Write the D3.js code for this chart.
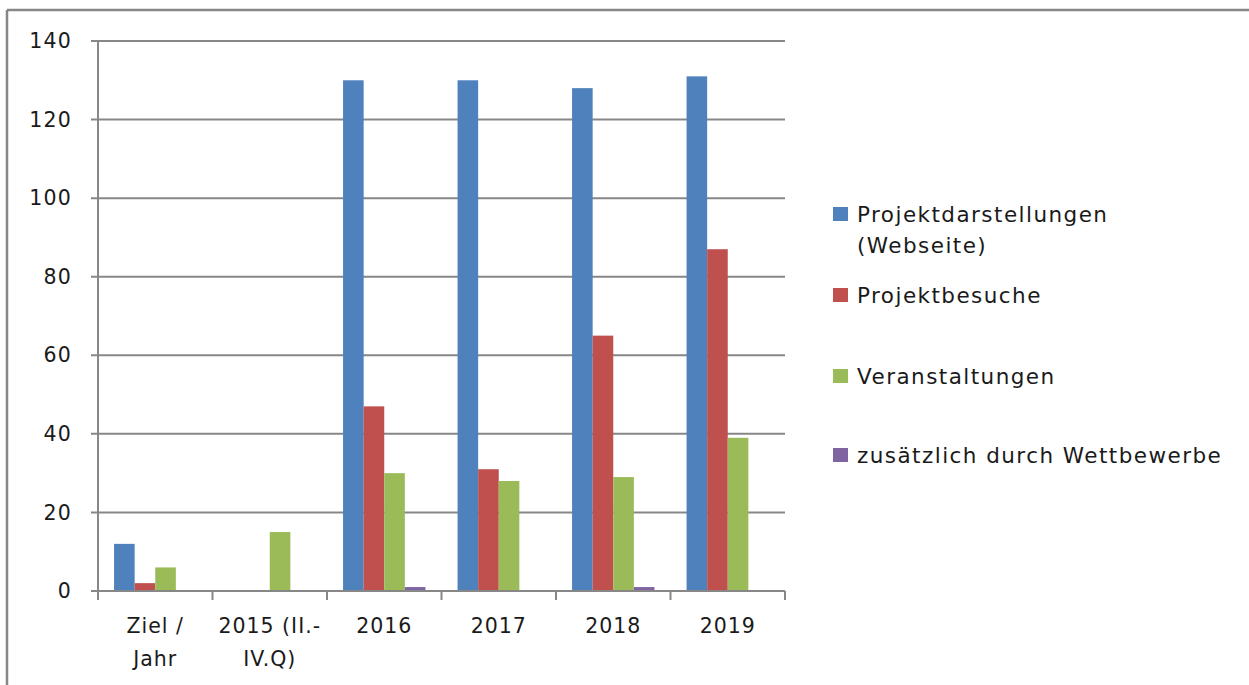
<!DOCTYPE html>
<html><head><meta charset="utf-8">
<script src="https://cdn.jsdelivr.net/npm/d3@7"></script>
<style>html,body{margin:0;padding:0;background:#fff;}svg{display:block;font-family:"DejaVu Sans",sans-serif;}</style>
</head><body>
<svg id="c" width="1249" height="685"></svg>
<script>
const categories = [["Ziel /","Jahr"],["2015 (II.-","IV.Q)"],["2016"],["2017"],["2018"],["2019"]];
const seriesNames = [["Projektdarstellungen","(Webseite)"],["Projektbesuche"],["Veranstaltungen"],["zusätzlich durch Wettbewerbe"]];
const projektdarstellungen = [12, 0, 130, 130, 128, 131];
const projektbesuche = [2, 0, 47, 31, 65, 87];
const veranstaltungen = [6, 15, 30, 28, 29, 39];
const wettbewerbe = [0, 0, 1, 0, 1, 0];
const yTicks = [0, 20, 40, 60, 80, 100, 120, 140];
const colors = ["#4F81BD", "#C0504D", "#9BBB59", "#8064A2"];
const seriesValues = [projektdarstellungen, projektbesuche, veranstaltungen, wettbewerbe];

const svg = d3.select("#c");
const gray = "#878787";
const fs = 20.5;
const txt = "#1a1a1a";
// outer frame
svg.append("line").attr("x1",7).attr("x2",7).attr("y1",10).attr("y2",685).attr("stroke",gray).attr("stroke-width",2.5);
svg.append("line").attr("x1",7).attr("x2",1249).attr("y1",10).attr("y2",10).attr("stroke",gray).attr("stroke-width",2.5);

const pL = 98, pR = 785, pT = 41, pB = 591;
const idx = d3.range(categories.length);
const x = d3.scaleBand().domain(idx).range([pL, pR]).paddingInner(0).paddingOuter(0);
const x1 = d3.scaleBand().domain(d3.range(4)).range([0, x.bandwidth()]).paddingInner(0).paddingOuter(0.78);
const y = d3.scaleLinear().domain([0, 140]).range([pB, pT]);

// gridlines
svg.append("g").selectAll("line").data(yTicks).join("line")
  .attr("x1", pL - 7).attr("x2", pR).attr("y1", d => y(d)).attr("y2", d => y(d))
  .attr("stroke", gray).attr("stroke-width", 2);
// y axis line
svg.append("line").attr("x1", pL).attr("x2", pL).attr("y1", pT).attr("y2", pB).attr("stroke", gray).attr("stroke-width", 2);
// y labels
svg.append("g").selectAll("text").data(yTicks).join("text")
  .attr("x", 72).attr("y", d => y(d)).attr("dy", "0.35em").attr("text-anchor", "end")
  .attr("font-size", fs).attr("letter-spacing", 1.2).attr("fill", txt).text(d => d);

// bars
const groups = svg.append("g").selectAll("g").data(idx).join("g")
  .attr("transform", i => `translate(${x(i)},0)`);
groups.selectAll("rect").data(i => seriesValues.map((s, k) => ({k, v: s[i]}))).join("rect")
  .attr("x", d => x1(d.k)).attr("width", x1.bandwidth())
  .attr("y", d => y(d.v)).attr("height", d => y(0) - y(d.v))
  .attr("fill", d => colors[d.k]);

// x axis
svg.append("line").attr("x1", pL - 7).attr("x2", pR).attr("y1", pB).attr("y2", pB).attr("stroke", gray).attr("stroke-width", 2);
const tickXs = idx.map(i => x(i)).concat([x(idx[idx.length-1]) + x.bandwidth()]);
svg.append("g").selectAll("line").data(tickXs).join("line")
  .attr("x1", d => d).attr("x2", d => d).attr("y1", pB).attr("y2", pB + 9)
  .attr("stroke", gray).attr("stroke-width", 2);
// x labels
const xl = svg.append("g").selectAll("text").data(idx).join("text")
  .attr("text-anchor", "middle").attr("font-size", fs).attr("letter-spacing", 1.0).attr("fill", txt)
  .attr("transform", i => `translate(${x(i) + x.bandwidth()/2},${633})`);
xl.selectAll("tspan").data(i => categories[i]).join("tspan")
  .attr("x", 0).attr("dy", (d, j) => j === 0 ? 0 : 33).text(d => d);

// legend
const legY = [214, 295, 376, 455];
const lg = svg.append("g").selectAll("g").data(seriesNames).join("g")
  .attr("transform", (d, k) => `translate(833,${legY[k]})`);
lg.append("rect").attr("x", 0).attr("y", -7).attr("width", 15).attr("height", 14).attr("fill", (d, k) => colors[k]);
const lt = lg.append("text").attr("x", 24).attr("y", 0).attr("font-size", 21.5).attr("letter-spacing", 1.45).attr("fill", txt);
lt.selectAll("tspan").data(d => d).join("tspan").attr("x", 24).attr("dy", (d, j) => j === 0 ? "0.35em" : 31).text(d => d);
</script>
</body></html>
